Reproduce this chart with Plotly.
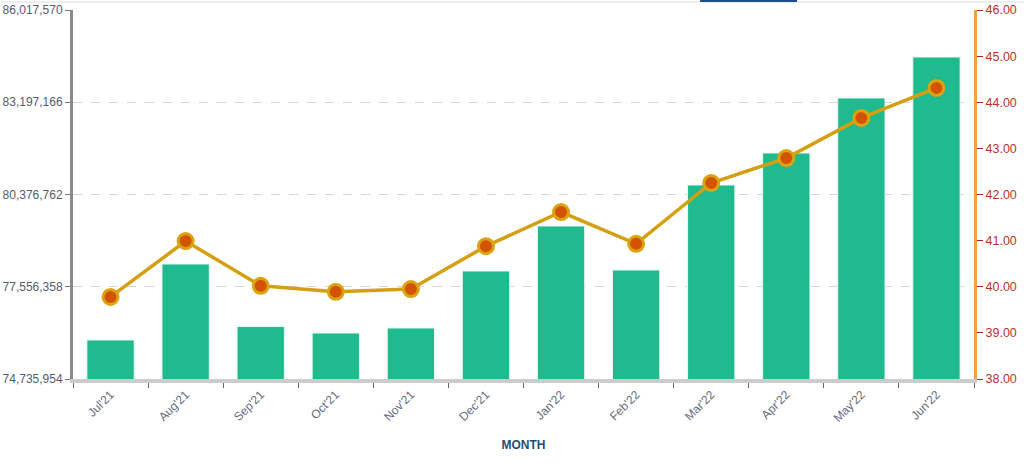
import plotly.graph_objects as go

months = ["Jul'21", "Aug'21", "Sep'21", "Oct'21", "Nov'21", "Dec'21",
          "Jan'22", "Feb'22", "Mar'22", "Apr'22", "May'22", "Jun'22"]
bar_values = [75928291, 78251825, 76340000, 76142328, 76295195, 78037812,
              79413586, 78068385, 80667101, 81645431, 83326979, 84580485]
line_values = [39.78, 40.99, 40.02, 39.89, 39.95, 40.88,
               41.62, 40.93, 42.25, 42.79, 43.66, 44.31]

left_ticks = [74735954, 77556358, 80376762, 83197166, 86017570]
right_ticks = [38, 39, 40, 41, 42, 43, 44, 45, 46]

FONT = "Liberation Sans, Arial, sans-serif"

fig = go.Figure()
fig.add_trace(go.Bar(
    x=months, y=bar_values, marker=dict(color="#1fba8e", line=dict(color="#e8f7f1", width=1)),
    yaxis="y", showlegend=False,
))
fig.add_trace(go.Scatter(
    x=months, y=line_values, mode="lines+markers", yaxis="y2",
    line=dict(color="#d4a012", width=3.5),
    marker=dict(size=15, color="#d35400", line=dict(color="#dba30f", width=3)),
    showlegend=False,
))

fig.update_layout(
    width=1024, height=471,
    margin=dict(l=73, r=50, t=10, b=92),
    paper_bgcolor="white", plot_bgcolor="white",
    bargap=0.37,
    font=dict(family=FONT, size=12, color="#555b6e"),
    xaxis=dict(
        type="category", range=[-0.5, len(months) - 0.5],
        tickangle=-45, tickson="boundaries", automargin=False,
        ticks="outside", ticklen=5, tickcolor="#666", tickwidth=1,
        showline=True, linecolor="#cccccc", linewidth=4,
        tickfont=dict(size=12, color="#666a80"),
        title=dict(text="<b>MONTH</b>", font=dict(size=12, color="#1f4e79"), standoff=18),
        showgrid=False, zeroline=False,
    ),
    yaxis=dict(
        range=[left_ticks[0], left_ticks[-1]], tickvals=left_ticks, automargin=False,
        tickformat=",d", ticks="outside", ticklen=5, tickcolor="#777",
        showline=True, linecolor="#8a8a8a", linewidth=3,
        showgrid=True, gridcolor="#d5d5d5", griddash="dash", gridwidth=1,
        zeroline=False, tickfont=dict(size=12, color="#555b6e"),
    ),
    yaxis2=dict(
        range=[38, 46], tickvals=right_ticks, tickformat=".2f", automargin=False,
        overlaying="y", side="right", ticks="outside", ticklen=6, tickcolor="#b22222",
        showline=True, linecolor="#f5a040", linewidth=3,
        showgrid=False, zeroline=False, tickfont=dict(size=12.5, color="#b8322a"),
    ),
    shapes=[
        dict(type="line", xref="paper", yref="paper", x0=-0.08, x1=1.06,
             y0=1 + 8 / 369, y1=1 + 8 / 369, line=dict(color="#dddddd", width=1)),
        dict(type="rect", xref="paper", yref="paper", x0=0.696, x1=0.8036,
             y0=1 + 8 / 369, y1=1 + 12 / 369, fillcolor="#1f4e8c", line=dict(width=0)),
    ],
)

fig.write_html("out.html")
